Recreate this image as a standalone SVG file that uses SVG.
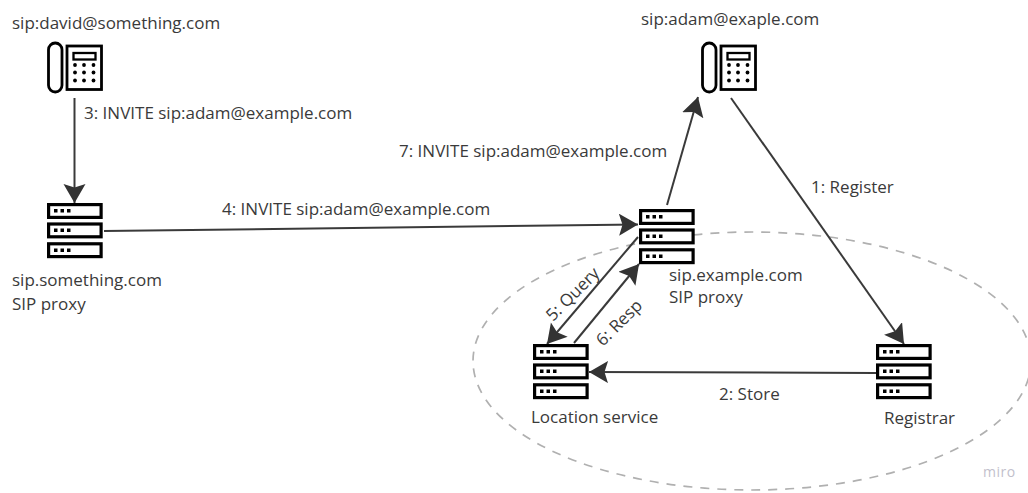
<svg xmlns="http://www.w3.org/2000/svg" width="1028" height="493" viewBox="0 0 1028 493">
<style>
text{font-family:"Open Sans","Noto Sans",sans-serif;font-size:17px;fill:#3a3a3a}
.c{fill:none;stroke:#3a3a3a;stroke-width:2}
.k{fill:#fff;stroke:#000;stroke-width:3.200}
.t{fill:#fff;stroke:#000;stroke-width:2.300}
</style>
<defs>
<marker id="a" markerUnits="userSpaceOnUse" markerWidth="22" markerHeight="24" refX="19" refY="11" orient="auto" viewBox="0 0 22 24">
<path d="M0,0 L19,11 L0,22 L3.500,11 Z" fill="#333"/>
</marker>
<g id="phone">
<rect class="t" x="48.500" y="43" width="13.500" height="49" rx="6.700" style="stroke-width:2.800"/>
<rect class="t" x="67" y="46" width="34.500" height="43.500" style="stroke-width:2.800"/>
<rect class="t" x="73.500" y="53" width="22" height="6.500"/>
<g fill="#000"><circle cx="75" cy="65" r="1.900"/><circle cx="84" cy="65" r="1.900"/><circle cx="93.500" cy="65" r="1.900"/><circle cx="75" cy="72.500" r="1.900"/><circle cx="84" cy="72.500" r="1.900"/><circle cx="93.500" cy="72.500" r="1.900"/><circle cx="75" cy="80.500" r="1.900"/><circle cx="84" cy="80.500" r="1.900"/><circle cx="93.500" cy="80.500" r="1.900"/></g>
</g>
<g id="server">
<rect class="k" x="1.600" y="1.600" width="52.500" height="12.800"/>
<rect class="k" x="1.600" y="21" width="52.500" height="12.800"/>
<rect class="k" x="1.600" y="40.800" width="52.500" height="12.800"/>
<g fill="#000"><rect x="7" y="6" width="3.500" height="3.500"/><rect x="13.500" y="6" width="3.500" height="3.500"/><rect x="20" y="6" width="3.500" height="3.500"/><rect x="7" y="25.500" width="3.500" height="3.500"/><rect x="13.500" y="25.500" width="3.500" height="3.500"/><rect x="20" y="25.500" width="3.500" height="3.500"/><rect x="7" y="45.500" width="3.500" height="3.500"/><rect x="13.500" y="45.500" width="3.500" height="3.500"/><rect x="20" y="45.500" width="3.500" height="3.500"/></g>
</g>
</defs>
<rect width="1028" height="493" fill="#fff"/>
<ellipse id="boundary" cx="752" cy="361" rx="279" ry="129" fill="none" stroke="#b0b0b0" stroke-width="1.700" stroke-dasharray="9 8"/>
<g id="connectors">
<path class="c" marker-end="url(#a)" d="M74.500,98 L74.500,203"/>
<path class="c" marker-end="url(#a)" d="M104,231 L638,224.500"/>
<path class="c" marker-end="url(#a)" d="M667,205 L698,97"/>
<path class="c" marker-end="url(#a)" d="M731,98 L904,344"/>
<path class="c" marker-end="url(#a)" d="M638,237 L547,344"/>
<path class="c" marker-end="url(#a)" d="M574,343 L639,264"/>
<path class="c" marker-end="url(#a)" d="M876,373 L589,372"/>
</g>
<g id="david-phone"><use href="#phone"/><text x="12" y="29">sip:david@something.com</text></g>
<g id="adam-phone"><use href="#phone" x="654"/><text x="641" y="25">sip:adam@exaple.com</text></g>
<g id="proxy-something"><use href="#server" x="47" y="203"/><text x="12" y="286">sip.something.com</text><text x="12" y="310">SIP proxy</text></g>
<g id="proxy-example"><use href="#server" x="639" y="209"/><text x="669" y="281">sip.example.com</text><text x="669" y="303">SIP proxy</text></g>
<g id="location"><use href="#server" x="533" y="344"/><text x="531" y="423">Location service</text></g>
<g id="registrar"><use href="#server" x="876" y="344"/><text x="884" y="424">Registrar</text></g>
<g id="labels">
<text x="84" y="119">3: INVITE sip:adam@example.com</text>
<text x="222" y="215">4: INVITE sip:adam@example.com</text>
<text x="399" y="157">7: INVITE sip:adam@example.com</text>
<text x="811" y="193">1: Register</text>
<text x="719" y="400">2: Store</text>
<text transform="translate(553,322) rotate(-45)">5: Query</text>
<text transform="translate(603,347) rotate(-45)">6: Resp</text>
<text x="983" y="477" style="font-size:14px;fill:#c2bfcc;letter-spacing:.5px">miro</text>
</g>
</svg>
